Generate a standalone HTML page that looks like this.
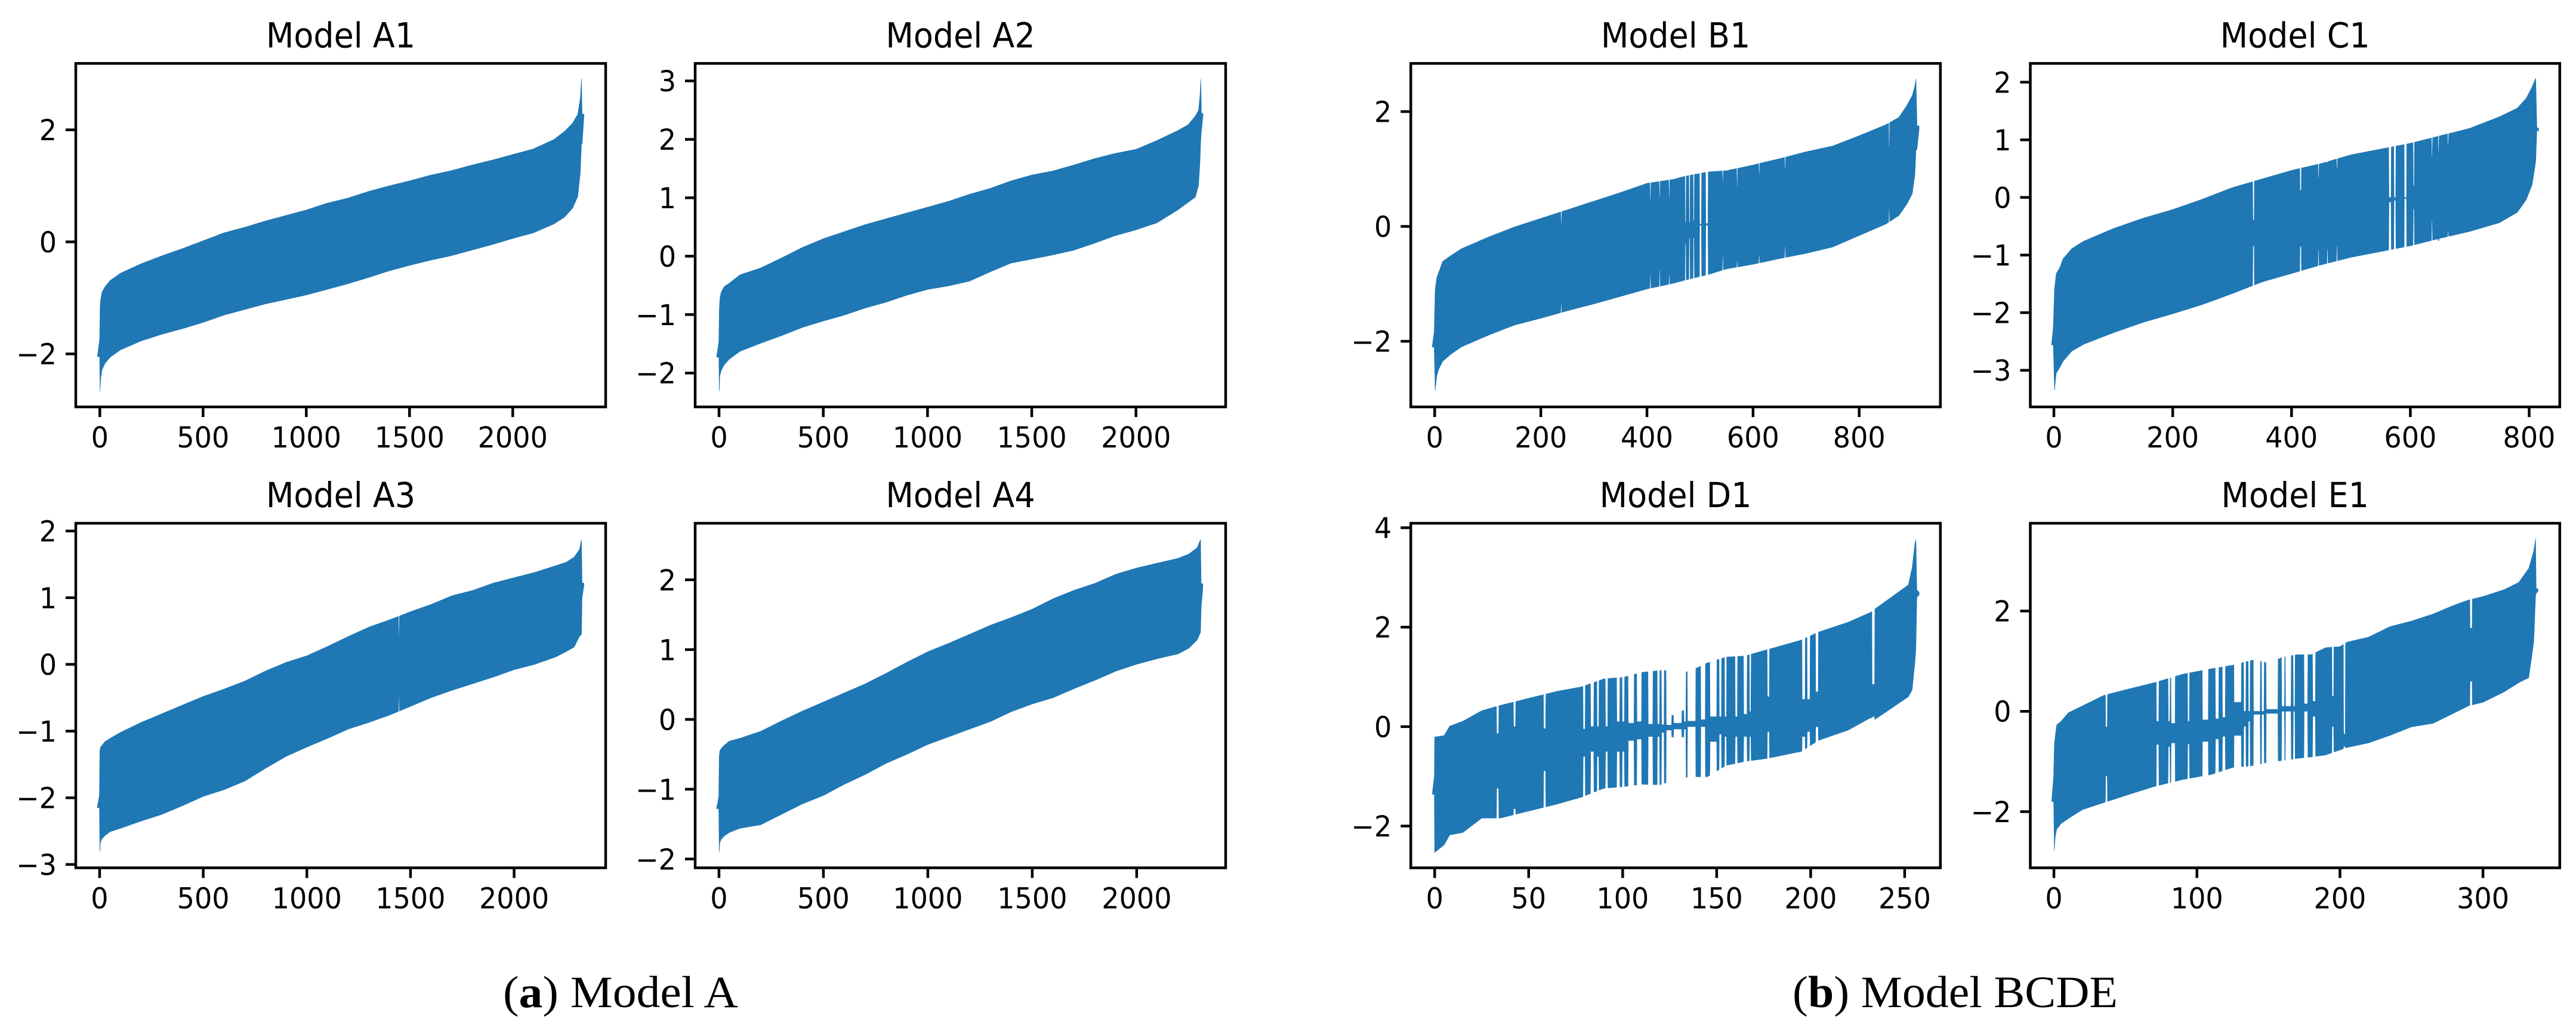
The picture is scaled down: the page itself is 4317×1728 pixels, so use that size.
<!DOCTYPE html>
<html lang="en">
<head>
<meta charset="utf-8">
<title>Model A and Model BCDE sorted value ranges</title>
<style>
html,body{margin:0;padding:0;background:#fff;}
svg{display:block;}
.tick-text{font-family:"DejaVu Sans",sans-serif;font-size:48.5px;fill:#000;}
.title-text{font-family:"DejaVu Sans",sans-serif;font-size:58px;fill:#000;}
.caption{font-family:"Liberation Serif",serif;font-size:75.5px;fill:#000;}
</style>
</head>
<body>
<svg id="figure" xmlns="http://www.w3.org/2000/svg" width="4317" height="1728" viewBox="0 0 4317 1728">
<rect x="0" y="0" width="4317" height="1728" fill="#fff"/>
<text class="caption" x="843" y="1688" textLength="394" lengthAdjust="spacingAndGlyphs">(<tspan font-weight="bold">a</tspan>) Model A</text>
<text class="caption" x="3004" y="1688" textLength="545" lengthAdjust="spacingAndGlyphs">(<tspan font-weight="bold">b</tspan>) Model BCDE</text>
</svg>
<script>
// ---- Tick labels ----
const thousandsTicks = [0, 500, 1000, 1500, 2000];
const hundredsTicks = [0, 200, 400, 600, 800];
const d1XTicks = [0, 50, 100, 150, 200, 250];
const e1XTicks = [0, 100, 200, 300];
const a1YTicks = [-2, 0, 2];
const a2YTicks = [-2, -1, 0, 1, 2, 3];
const a3YTicks = [-3, -2, -1, 0, 1, 2];
const a4YTicks = [-2, -1, 0, 1, 2];
const b1YTicks = [-2, 0, 2];
const c1YTicks = [-3, -2, -1, 0, 1, 2];
const d1YTicks = [-2, 0, 2, 4];
const e1YTicks = [-2, 0, 2];

// ---- Model A1 ----
const a1Index = [-12,-1,1,4,10,25,50,100,200,300,400,500,600,700,800,900,1000,1100,1200,1300,1400,1500,1600,1700,1800,1900,2000,2100,2200,2250,2290,2315,2327,2333,2336,2345];
const a1Upper = [-2.05,-1.73,-1.16,-1.03,-0.90,-0.80,-0.69,-0.56,-0.39,-0.25,-0.12,0.02,0.16,0.26,0.37,0.47,0.57,0.69,0.78,0.90,1.00,1.09,1.19,1.27,1.37,1.46,1.56,1.66,1.83,1.97,2.12,2.28,2.56,2.91,2.28,2.28];
const a1Lower = [-2.05,-2.05,-2.67,-2.45,-2.29,-2.17,-2.06,-1.93,-1.77,-1.65,-1.55,-1.44,-1.31,-1.21,-1.11,-1.03,-0.95,-0.85,-0.75,-0.64,-0.52,-0.42,-0.33,-0.25,-0.15,-0.05,0.06,0.16,0.32,0.44,0.60,0.81,1.22,1.74,1.75,2.25];
const a1GapStart = [];
const a1GapEnd = [];
const a1GapUpper = [];
const a1GapLower = [];

// ---- Model A2 ----
const a2Index = [-12,-1,1,4,10,25,50,100,200,300,400,500,600,700,800,900,1000,1100,1200,1300,1400,1500,1600,1700,1800,1900,2000,2100,2200,2250,2285,2300,2307,2311,2314,2322];
const a2Upper = [-1.73,-1.46,-0.92,-0.72,-0.62,-0.52,-0.46,-0.32,-0.20,-0.03,0.15,0.30,0.42,0.54,0.64,0.74,0.84,0.94,1.06,1.16,1.29,1.39,1.46,1.56,1.67,1.76,1.83,1.98,2.15,2.25,2.40,2.50,2.75,3.03,2.45,2.44];
const a2Lower = [-1.73,-1.73,-2.31,-2.05,-1.96,-1.86,-1.76,-1.63,-1.49,-1.36,-1.22,-1.11,-1.01,-0.89,-0.79,-0.67,-0.57,-0.51,-0.43,-0.27,-0.12,-0.05,0.02,0.10,0.22,0.35,0.45,0.57,0.79,0.92,1.01,1.21,1.61,2.00,2.15,2.42];
const a2GapStart = [];
const a2GapEnd = [];
const a2GapUpper = [];
const a2GapLower = [];

// ---- Model A3 ----
const a3Index = [-12,-1,1,4,10,25,50,100,200,300,400,500,600,700,800,900,1000,1100,1200,1300,1400,1500,1600,1700,1800,1900,2000,2100,2200,2250,2290,2315,2325,2328,2337];
const a3Upper = [-2.15,-1.96,-1.30,-1.24,-1.22,-1.16,-1.11,-1.02,-0.87,-0.74,-0.61,-0.48,-0.37,-0.25,-0.10,0.03,0.13,0.27,0.42,0.56,0.67,0.79,0.90,1.03,1.11,1.22,1.30,1.38,1.48,1.53,1.61,1.72,1.87,1.22,1.22];
const a3Lower = [-2.15,-2.15,-2.81,-2.67,-2.62,-2.57,-2.51,-2.46,-2.35,-2.25,-2.12,-1.98,-1.88,-1.75,-1.56,-1.38,-1.24,-1.11,-0.97,-0.87,-0.76,-0.63,-0.50,-0.39,-0.29,-0.19,-0.08,0.00,0.11,0.19,0.26,0.42,0.45,1.00,1.18];
const a3GapStart = [1443];
const a3GapEnd = [1445];
const a3GapUpper = [0.42];
const a3GapLower = [-0.48];

// ---- Model A4 ----
const a4Index = [-12,-1,1,4,10,25,50,100,200,300,400,500,600,700,800,900,1000,1100,1200,1300,1400,1500,1600,1700,1800,1900,2000,2100,2200,2250,2290,2306,2309,2317];
const a4Upper = [-1.28,-1.11,-0.53,-0.45,-0.42,-0.37,-0.31,-0.27,-0.17,-0.02,0.12,0.25,0.38,0.51,0.66,0.82,0.97,1.09,1.22,1.35,1.46,1.58,1.73,1.85,1.95,2.08,2.17,2.24,2.31,2.37,2.46,2.58,1.95,1.94];
const a4Lower = [-1.28,-1.28,-1.90,-1.77,-1.72,-1.67,-1.62,-1.56,-1.51,-1.36,-1.21,-1.09,-0.93,-0.79,-0.63,-0.50,-0.36,-0.25,-0.14,-0.03,0.11,0.22,0.31,0.44,0.56,0.69,0.79,0.87,0.94,1.02,1.14,1.25,1.60,1.88];
const a4GapStart = [];
const a4GapEnd = [];
const a4GapUpper = [];
const a4GapLower = [];

// ---- Model B1 ----
const b1Index = [-5,-1,1,4,8,15,30,50,100,150,200,250,300,350,400,450,470,515,550,600,650,700,750,800,850,875,890,900,905,907,909,913];
const b1Upper = [-2.10,-1.85,-1.09,-0.89,-0.79,-0.61,-0.51,-0.39,-0.19,-0.01,0.14,0.29,0.44,0.59,0.75,0.82,0.87,0.95,0.97,1.07,1.18,1.30,1.40,1.58,1.77,1.90,2.11,2.28,2.45,2.57,1.75,1.75];
const b1Lower = [-2.10,-2.10,-2.86,-2.60,-2.48,-2.35,-2.23,-2.10,-1.90,-1.72,-1.60,-1.47,-1.35,-1.22,-1.09,-0.99,-0.94,-0.84,-0.74,-0.66,-0.56,-0.47,-0.36,-0.16,0.04,0.19,0.39,0.57,0.90,1.32,1.35,1.70];
const b1GapStart = [238,406,423.5,441.5,472,479.5,487.5,499.4,511,542.5,569.5,611,660,856];
const b1GapEnd = [239,407,424.5,442.5,473.5,481,489,502.6,515,543.5,570.5,612,661,857];
const b1GapUpper = [0.05,0.45,0.50,0.50,0.07,0.07,0.10,0.04,0.05,0.77,0.70,0.90,1.00,1.40];
const b1GapLower = [-1.35,-0.85,-0.75,-0.85,-0.30,-0.20,-0.20,0.02,0.02,-0.50,-0.60,-0.50,-0.35,0.30];

// ---- Model C1 ----
const c1Index = [-4,-1,1,4,10,15,30,50,100,150,200,250,300,350,400,450,500,550,600,650,700,750,780,795,805,811,813,816];
const c1Upper = [-2.56,-2.25,-1.59,-1.32,-1.22,-1.07,-0.89,-0.76,-0.54,-0.36,-0.21,-0.03,0.17,0.32,0.47,0.59,0.74,0.84,0.94,1.07,1.20,1.40,1.55,1.72,1.92,2.07,1.22,1.19];
const c1Lower = [-2.56,-2.56,-3.35,-3.05,-2.95,-2.85,-2.67,-2.55,-2.35,-2.17,-2.02,-1.86,-1.67,-1.47,-1.32,-1.17,-1.04,-0.94,-0.84,-0.71,-0.59,-0.44,-0.26,-0.04,0.22,0.62,1.17,1.15];
const c1GapStart = [335,414.3,445,460,476,564,572.6,590,605,636,647,663];
const c1GapEnd = [337,416.3,446,461,477,567.5,575.3,593.5,606.5,637,648,664];
const c1GapUpper = [-0.39,0.12,0.35,0.60,0.50,0.00,0.00,0.00,0.20,0.70,0.80,0.90];
const c1GapLower = [-0.84,-0.85,-0.90,-0.90,-0.85,-0.08,-0.05,-0.02,-0.20,-0.40,-0.75,-0.60];

// ---- Model D1 ----
const d1Index = [-1.3,-0.2,0,5,8,15,25,35,50,65,78,90,100,110,120,125,135,145,155,165,177,195,204,220,232,234,252,254,255.5,256,256.5,257.7];
const d1Upper = [-1.36,-1.00,-0.21,-0.18,0.01,0.11,0.32,0.43,0.57,0.71,0.80,0.96,0.99,1.09,1.13,1.13,1.10,1.28,1.40,1.42,1.55,1.74,1.90,2.10,2.30,2.36,2.85,3.20,3.70,3.76,2.75,2.70];
const d1Lower = [-1.36,-1.36,-2.53,-2.38,-2.18,-2.13,-1.84,-1.84,-1.70,-1.56,-1.42,-1.24,-1.21,-1.16,-1.17,-1.10,-1.01,-1.01,-0.78,-0.70,-0.64,-0.50,-0.28,-0.07,0.18,0.14,0.60,0.74,1.31,1.60,2.60,2.65];
const d1GapStart = [33,42,58,79,83,86.4,90.9,96.9,99.8,103,107.6,113.6,118.5,120.7,123.2,126,127,131.4,132.5,134.5,141.6,146.5,151.4,154.3,159.9,164.4,167.5,177,195.5,198.2,202.7,232.7];
const d1GapEnd = [34,43,59,80,84.6,87.3,92,98.4,100.9,106,110,116,119.6,122,126,127,131.4,132.5,133.6,138.8,143.9,150,152.5,155.2,161,166.1,168.2,178,197,199.6,204,234];
const d1GapUpper = [-0.14,0.00,-0.04,-0.05,0.00,0.00,0.00,0.10,0.10,0.07,0.10,0.05,0.05,0.04,0.03,0.23,0.07,0.32,0.10,0.11,0.14,0.20,0.20,0.20,0.20,0.25,0.30,0.60,0.55,0.55,0.70,0.85];
const d1GapLower = [-1.24,-1.65,-0.89,-0.60,-0.50,-0.60,-0.50,-0.50,-0.50,-0.28,-0.25,-0.20,-0.20,-0.12,-0.07,-0.21,-0.05,-0.21,-0.05,0.00,0.00,-0.30,-0.15,-0.20,-0.20,-0.20,-0.20,-0.10,-0.20,-0.10,0.00,0.20];

// ---- Model E1 ----
const e1Index = [-1.6,-0.2,0.3,1,2,5,10,20,35,50,70,90,110,125,140,150,160,170,180,190,200,205,220,235,250,265,280,290,300,315,325,332,335.5,336.8,337.2,338.6];
const e1Upper = [-1.80,-1.29,-0.66,-0.48,-0.27,-0.20,-0.03,0.11,0.32,0.43,0.57,0.74,0.85,0.92,1.03,0.96,1.08,1.13,1.13,1.27,1.29,1.38,1.48,1.69,1.80,1.94,2.12,2.22,2.29,2.43,2.57,2.85,3.20,3.44,2.45,2.44];
const e1Lower = [-1.80,-1.80,-2.77,-2.49,-2.35,-2.24,-2.14,-1.96,-1.82,-1.68,-1.50,-1.36,-1.26,-1.12,-1.08,-1.01,-0.98,-0.94,-0.91,-0.87,-0.77,-0.72,-0.63,-0.48,-0.31,-0.24,-0.03,0.11,0.18,0.39,0.57,0.67,1.38,2.30,2.35,2.40];
const e1GapStart = [36.2,71.7,80,82,93.6,103.9,113,117.9,126,132.8,136,139.6,145.3,148.5,159.3,162,167.4,175,181,194.5,202.6,291];
const e1GapEnd = [37.3,73.3,81.1,84.7,94.7,107.9,115.2,119.8,131,134.2,137.1,144.2,146.9,156.6,161.2,165.8,168.5,177.4,182.8,195.6,203.7,292.4];
const e1GapUpper = [-0.31,-0.20,-0.20,-0.24,-0.20,-0.17,-0.15,-0.12,0.18,0.00,0.00,0.00,0.00,0.04,0.10,0.10,0.10,0.15,0.20,0.30,-0.45,1.66];
const e1GapLower = [-1.29,-0.66,-0.70,-0.63,-0.65,-0.60,-0.55,-0.50,-0.48,-0.30,-0.20,-0.06,-0.06,-0.04,0.00,0.00,0.00,0.00,-0.10,-0.30,-0.70,0.60];

// ---- Panel layout (frame in page pixels, axis limits in data units) ----
const panels = [
  {key:'a1',title:'Model A1',frame:[127,106.3,1015,682],xLim:[-116.5,2450],yLim:[-2.947,3.186],xTicks:thousandsTicks,yTicks:a1YTicks,index:a1Index,upper:a1Upper,lower:a1Lower,gapStart:a1GapStart,gapEnd:a1GapEnd,gapUpper:a1GapUpper,gapLower:a1GapLower},
  {key:'a2',title:'Model A2',frame:[1165,106.3,2054,682],xLim:[-114.5,2430],yLim:[-2.58,3.30],xTicks:thousandsTicks,yTicks:a2YTicks,index:a2Index,upper:a2Upper,lower:a2Lower,gapStart:a2GapStart,gapEnd:a2GapEnd,gapUpper:a2GapUpper,gapLower:a2GapLower},
  {key:'a3',title:'Model A3',frame:[127,877,1015,1454.5],xLim:[-115,2441.7],yLim:[-3.05,2.116],xTicks:thousandsTicks,yTicks:a3YTicks,index:a3Index,upper:a3Upper,lower:a3Lower,gapStart:a3GapStart,gapEnd:a3GapEnd,gapUpper:a3GapUpper,gapLower:a3GapLower},
  {key:'a4',title:'Model A4',frame:[1165,877,2054,1454.5],xLim:[-114,2426],yLim:[-2.126,2.81],xTicks:thousandsTicks,yTicks:a4YTicks,index:a4Index,upper:a4Upper,lower:a4Lower,gapStart:a4GapStart,gapEnd:a4GapEnd,gapUpper:a4GapUpper,gapLower:a4GapLower},
  {key:'b1',title:'Model B1',frame:[2364.3,106.3,3251.8,682],xLim:[-45,953],yLim:[-3.143,2.838],xTicks:hundredsTicks,yTicks:b1YTicks,index:b1Index,upper:b1Upper,lower:b1Lower,gapStart:b1GapStart,gapEnd:b1GapEnd,gapUpper:b1GapUpper,gapLower:b1GapLower},
  {key:'c1',title:'Model C1',frame:[3402.5,106.3,4289.8,682],xLim:[-39.7,851.5],yLim:[-3.636,2.326],xTicks:hundredsTicks,yTicks:c1YTicks,index:c1Index,upper:c1Upper,lower:c1Lower,gapStart:c1GapStart,gapEnd:c1GapEnd,gapUpper:c1GapUpper,gapLower:c1GapLower},
  {key:'d1',title:'Model D1',frame:[2364.3,877,3251.8,1454.5],xLim:[-12.7,269],yLim:[-2.84,4.09],xTicks:d1XTicks,yTicks:d1YTicks,index:d1Index,upper:d1Upper,lower:d1Lower,gapStart:d1GapStart,gapEnd:d1GapEnd,gapUpper:d1GapUpper,gapLower:d1GapLower},
  {key:'e1',title:'Model E1',frame:[3402.5,877,4289.8,1454.5],xLim:[-16.5,353.7],yLim:[-3.12,3.75],xTicks:e1XTicks,yTicks:e1YTicks,index:e1Index,upper:e1Upper,lower:e1Lower,gapStart:e1GapStart,gapEnd:e1GapEnd,gapUpper:e1GapUpper,gapLower:e1GapLower}
];

const SVG_NS = 'http://www.w3.org/2000/svg';
const LINE_BLUE = '#1f77b4';
const FRAME_WIDTH = 4.5;
const TICK_LENGTH = 17;
const TICK_SQUEEZE = 0.95;
const TITLE_SQUEEZE = 0.93;
const figure = document.getElementById('figure');

function make(tag, attrs) {
  const node = document.createElementNS(SVG_NS, tag);
  for (const k in attrs) node.setAttribute(k, attrs[k]);
  return node;
}

function interpolate(xs, ys, x) {
  if (x <= xs[0]) return ys[0];
  for (let i = 1; i < xs.length; i++) {
    if (x <= xs[i]) {
      const t = (x - xs[i - 1]) / (xs[i] - xs[i - 1]);
      return ys[i - 1] + t * (ys[i] - ys[i - 1]);
    }
  }
  return ys[ys.length - 1];
}

function envelopePath(p, xScale, yScale) {
  const e = 0.0005 * (p.xLim[1] - p.xLim[0]);
  let stops = p.index.slice();
  p.gapStart.forEach(function (s, i) {
    stops.push(s - e, s, p.gapEnd[i], p.gapEnd[i] + e);
  });
  stops = Array.from(new Set(stops)).sort(function (a, b) { return a - b; });
  const top = [];
  const bottom = [];
  stops.forEach(function (x) {
    let u = interpolate(p.index, p.upper, x);
    let l = interpolate(p.index, p.lower, x);
    for (let i = 0; i < p.gapStart.length; i++) {
      if (x >= p.gapStart[i] && x <= p.gapEnd[i]) {
        u = p.gapUpper[i];
        l = p.gapLower[i];
        break;
      }
    }
    top.push(xScale(x).toFixed(1) + ' ' + yScale(u).toFixed(1));
    bottom.push(xScale(x).toFixed(1) + ' ' + yScale(l).toFixed(1));
  });
  return 'M' + top.join('L') + 'L' + bottom.reverse().join('L') + 'Z';
}

panels.forEach(function (p) {
  const left = p.frame[0], top = p.frame[1], right = p.frame[2], bottom = p.frame[3];
  const xScale = function (v) { return left + (v - p.xLim[0]) / (p.xLim[1] - p.xLim[0]) * (right - left); };
  const yScale = function (v) { return bottom - (v - p.yLim[0]) / (p.yLim[1] - p.yLim[0]) * (bottom - top); };

  const group = make('g', {});
  
  
  figure.appendChild(group);

  const series = make('path', {d: envelopePath(p, xScale, yScale), fill: LINE_BLUE, stroke: LINE_BLUE, 'stroke-width': 0.6});
  
  
  group.appendChild(series);

  const title = make('text', {class: 'title-text', 'text-anchor': 'middle', transform: 'translate(' + ((left + right) / 2) + ',' + (top - 27) + ') scale(' + TITLE_SQUEEZE + ',1)'});
  title.textContent = p.title;
  
  
  group.appendChild(title);

  p.xTicks.forEach(function (v) {
    const px = xScale(v);
    const tick = make('line', {x1: px, x2: px, y1: bottom, y2: bottom + TICK_LENGTH, stroke: '#000', 'stroke-width': FRAME_WIDTH});
    
    
    group.appendChild(tick);
    const label = make('text', {class: 'tick-text', 'text-anchor': 'middle', transform: 'translate(' + px + ',' + (bottom + 68) + ') scale(' + TICK_SQUEEZE + ',1)'});
    label.textContent = String(v);
    
    
    group.appendChild(label);
  });

  p.yTicks.forEach(function (v) {
    const py = yScale(v);
    const tick = make('line', {x1: left - TICK_LENGTH, x2: left, y1: py, y2: py, stroke: '#000', 'stroke-width': FRAME_WIDTH});
    
    
    group.appendChild(tick);
    const label = make('text', {class: 'tick-text', 'text-anchor': 'end', transform: 'translate(' + (left - 32) + ',' + (py + 17.5) + ') scale(' + TICK_SQUEEZE + ',1)'});
    label.textContent = (v < 0 ? '\u2212' : '') + Math.abs(v);
    
    
    group.appendChild(label);
  });

  const frame = make('rect', {x: left, y: top, width: right - left, height: bottom - top, fill: 'none', stroke: '#000', 'stroke-width': FRAME_WIDTH});
  
  
  group.appendChild(frame);
});
</script>
</body>
</html>
